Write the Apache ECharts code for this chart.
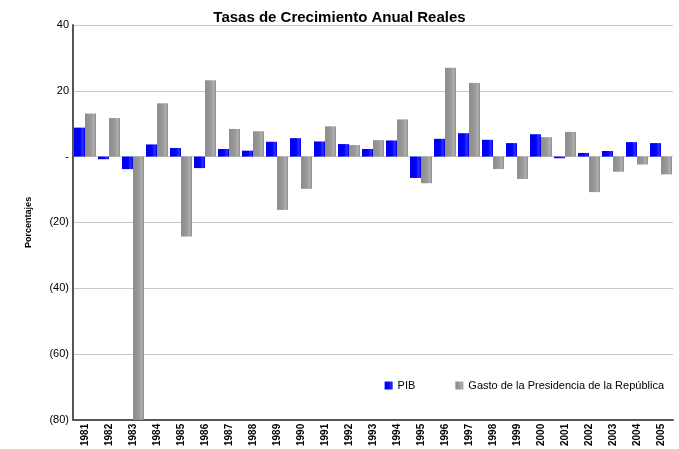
<!DOCTYPE html>
<html>
<head>
<meta charset="utf-8">
<script src="https://cdn.jsdelivr.net/npm/echarts@6/dist/echarts.min.js"></script>
<style>
  html, body { margin: 0; padding: 0; background: #fff; }
  #chart { width: 679px; height: 449px; }
</style>
</head>
<body>
<div id="chart"></div>
<script>
var years = ['1981','1982','1983','1984','1985','1986','1987','1988','1989','1990',
  '1991','1992','1993','1994','1995','1996','1997','1998','1999','2000',
  '2001','2002','2003','2004','2005'];
var pib = [8.8, -0.8, -3.8, 3.7, 2.6, -3.5, 2.3, 1.8, 4.5, 5.6,
  4.6, 3.8, 2.3, 4.9, -6.5, 5.4, 7.1, 5.1, 4.1, 6.8,
  -0.5, 1.1, 1.7, 4.4, 4.1];
var gasto = [13.1, 11.7, -80, 16.2, -24.3, 23.2, 8.4, 7.7, -16.2, -9.8,
  9.2, 3.5, 5.0, 11.3, -8.1, 27.0, 22.4, -3.8, -6.8, 5.9,
  7.5, -10.8, -4.6, -2.4, -5.4];

var chartDom = document.getElementById('chart');
var myChart = echarts.init(chartDom);
var option;

function cyl(c1, c2, c3) {
  return new echarts.graphic.LinearGradient(0, 0, 1, 0, [
    { offset: 0, color: c1 },
    { offset: 0.55, color: c2 },
    { offset: 0.8, color: c3 },
    { offset: 1, color: c1 }
  ]);
}

option = {
  animation: false,
  textStyle: { fontFamily: 'Liberation Sans, Arial, sans-serif' },
  title: {
    text: 'Tasas de Crecimiento Anual Reales',
    left: 'center',
    top: 5,
    textStyle: { fontSize: 15, fontWeight: 'bold', color: '#000' }
  },
  legend: {
    right: 10,
    top: 375,
    icon: 'rect',
    itemWidth: 8,
    itemHeight: 8,
    itemGap: 40,
    textStyle: { fontSize: 11, color: '#000' },
    data: ['PIB', 'Gasto de la Presidencia de la República']
  },
  grid: { left: 73, right: 6, top: 25, bottom: 23 },
  xAxis: {
    type: 'category',
    data: years,
    position: 'bottom',
    axisLine: { onZero: false, lineStyle: { color: '#555', width: 2 } },
    axisTick: { show: false },
    axisLabel: { rotate: 90, fontSize: 10, fontWeight: 'bold', color: '#000', margin: 4, interval: 0 }
  },
  yAxis: {
    type: 'value',
    min: -80,
    max: 40,
    interval: 20,
    name: 'Porcentajes',
    nameLocation: 'middle',
    nameGap: 40,
    nameTextStyle: { fontSize: 9, fontWeight: 'bold', color: '#000' },
    axisLine: { show: true, lineStyle: { color: '#555', width: 2 } },
    axisTick: { show: false },
    splitLine: { lineStyle: { color: '#c8c8c8', width: 1 } },
    axisLabel: {
      fontSize: 11,
      color: '#000',
      margin: 4,
      formatter: function (v) {
        if (v === 0) return '-';
        if (v < 0) return '(' + Math.abs(v) + ')';
        return v;
      }
    }
  },
  series: [
    {
      name: 'PIB',
      type: 'bar',
      data: pib,
      barWidth: 11,
      barGap: '0%',
      itemStyle: { color: cyl('#0000e8', '#0000ff', '#3030ff') }
    },
    {
      name: 'Gasto de la Presidencia de la República',
      type: 'bar',
      data: gasto,
      barWidth: 11,
      itemStyle: { color: cyl('#8c8c8c', '#9a9a9a', '#b0b0b0') }
    }
  ]
};

option && myChart.setOption(option);
</script>
</body>
</html>
